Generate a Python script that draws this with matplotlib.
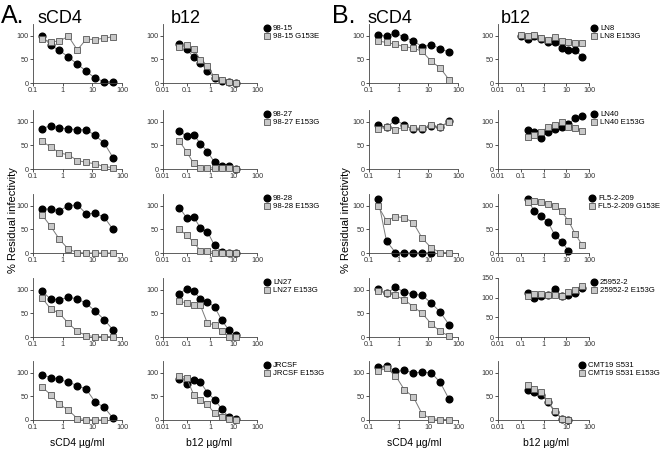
import matplotlib
matplotlib.use("Agg")
import matplotlib.pyplot as plt
from matplotlib.lines import Line2D

plt.rcParams['font.family'] = ['Liberation Sans', 'DejaVu Sans']

# concentrations (ug/ml)
scd4_conc = [0.2, 0.39, 0.78, 1.56, 3.125, 6.25, 12.5, 25, 50]
b12_conc_a = [0.05, 0.1, 0.2, 0.39, 0.78, 1.56, 3.125, 6.25, 12.5]
b12_conc_b = [0.1, 0.2, 0.39, 0.78, 1.56, 3.125, 6.25, 12.5, 25, 50]

# panel A - sCD4 (wt, mutant)
a_names = ["98-15", "98-27", "98-28", "LN27", "JRCSF"]
a_mut = ["98-15 G153E", "98-27 E153G", "98-28 E153G", "LN27 E153G", "JRCSF E153G"]
a_scd4_wt = [
    [100, 80, 69, 55, 40, 25, 10, 3, 2],
    [85, 92, 87, 85, 83, 83, 71, 55, 24],
    [93, 93, 90, 100, 102, 83, 84, 76, 50],
    [98, 80, 79, 84, 81, 71, 55, 37, 15],
    [96, 90, 86, 80, 73, 65, 38, 27, 4],
]
a_scd4_mut = [
    [94, 87, 89, 99, 70, 93, 92, 95, 98],
    [59, 47, 34, 30, 18, 14, 11, 5, 3],
    [81, 57, 29, 8, 1, 0, 0, 0, 0],
    [83, 60, 50, 29, 12, 3, 1, 1, 1],
    [70, 54, 33, 21, 3, 1, 0, 0],
]
a_b12_wt = [
    [83, 72, 55, 42, 26, 10, 5, 2, 0],
    [81, 69, 73, 54, 37, 14, 7, 7, 1],
    [96, 75, 77, 53, 45, 16, 3, 1, 0],
    [92, 102, 97, 81, 74, 64, 36, 15, 5],
    [86, 76, 84, 80, 58, 43, 24, 6, 2],
]
a_b12_mut = [
    [77, 81, 72, 49, 35, 12, 6, 2, 0],
    [59, 37, 12, 3, 3, 2, 2, 2, 1],
    [50, 38, 23, 5, 4, 1, 1, 1, 1],
    [76, 72, 67, 67, 29, 26, 12, 1, 0],
    [94, 90, 54, 43, 33, 14, 6, 2, 0],
]

# panel B
b_names = ["LN8", "LN40", "FL5-2-209", "25952-2", "CMT19 S531"]
b_mut = ["LN8 E153G", "LN40 E153G", "FL5-2-209 G153E", "25952-2 E153G", "CMT19 S531 E153G"]
b_scd4_wt = [
    [102, 99, 106, 97, 89, 77, 81, 73, 65],
    [93, 88, 104, 93, 84, 85, 91, 88, 102],
    [115, 25, 1, 0, 0, 0, 0],
    [101, 93, 105, 95, 91, 88, 72, 53, 26],
    [112, 115, 103, 105, 100, 101, 100, 80, 44],
]
b_scd4_mut = [
    [89, 86, 82, 77, 74, 67, 46, 32, 7],
    [85, 89, 83, 89, 87, 86, 94, 88, 99],
    [100, 68, 77, 75, 64, 31, 11, 1, 1],
    [97, 93, 88, 79, 64, 50, 28, 12, 2],
    [103, 110, 94, 64, 49, 12, 3, 1, 1],
]
b_b12_wt = [
    [100, 94, 99, 94, 86, 86, 74, 70, 69, 56],
    [83, 78, 66, 78, 85, 90, 95, 108, 112],
    [115, 88, 78, 66, 38, 24, 5],
    [112, 100, 103, 107, 122, 105, 108, 112, 125],
    [64, 59, 54, 38, 17, 3, 0],
]
b_b12_mut = [
    [101, 99, 101, 95, 92, 97, 88, 86, 85, 85],
    [68, 73, 78, 89, 94, 99, 90, 86, 81],
    [108, 110, 109, 104, 100, 88, 68, 40, 17],
    [104, 109, 109, 107, 108, 104, 114, 119, 130],
    [75, 66, 59, 40, 19, 3, 0],
]

W, H = 664, 451
fig = plt.figure(figsize=(W / 100, H / 100), dpi=100)

row_bottoms = [83, 169, 253, 337, 420]
ax_h = 59
cols = {"As": (33, 122), "Ab": (163, 257), "Bs": (369, 458), "Bb": (498, 589)}
# legend left edges (px) per row
a_leg_x = [264, 264, 264, 264, 264]
b_leg_x = [591, 591, 589, 591, 579]

line_col = "#7a7a7a"
sq_face = "#c8c8c8"
sq_edge = "#555555"


def make_ax(col, row, xmin, xticks, xlabels, ymax=125, yticks=(0, 50, 100)):
    l, r = cols[col]
    b = row_bottoms[row]
    ax = fig.add_axes([l / W, (H - b) / H, (r - l) / W, ax_h / H])
    ax.set_xscale("log")
    ax.set_xlim(xmin, 100)
    ax.set_ylim(0, ymax)
    ax.set_xticks(xticks)
    ax.set_xticklabels(xlabels)
    ax.xaxis.set_minor_locator(matplotlib.ticker.NullLocator())
    ax.set_yticks(list(yticks))
    ax.set_yticklabels([str(v) for v in yticks])
    for s in ["top", "right"]:
        ax.spines[s].set_visible(False)
    for s in ["left", "bottom"]:
        ax.spines[s].set_linewidth(0.6)
        ax.spines[s].set_color("#444444")
    ax.tick_params(direction="out", length=2, width=0.6, labelsize=5.2, pad=1,
                   colors="#333333")
    ax.patch.set_alpha(0)
    return ax


def draw(ax, xs, wt, mut):
    ax.plot(xs[:len(mut)], mut, "-s", color=line_col, lw=0.7, ms=4.6,
            mfc=sq_face, mec=sq_edge, mew=0.6, clip_on=False, zorder=3)
    ax.plot(xs[:len(wt)], wt, "-o", color=line_col, lw=0.7, ms=4.8,
            mfc="black", mec="black", clip_on=False, zorder=2)


def add_legend(ax, x_px, top_px, wt_name, mut_name):
    handles = [
        Line2D([], [], ls="none", marker="o", ms=4.8, mfc="black", mec="black"),
        Line2D([], [], ls="none", marker="s", ms=4.6, mfc=sq_face, mec=sq_edge, mew=0.6),
    ]
    ax.legend(handles, [wt_name, mut_name], loc="upper left",
              bbox_to_anchor=(x_px / W, (H - top_px) / H),
              bbox_transform=fig.transFigure, frameon=False, fontsize=5.6,
              handlelength=0.8, handletextpad=0.35, labelspacing=0.05,
              borderpad=0, borderaxespad=0)


s_ticks = [0.1, 1, 10, 100]
s_labels = ["0.1", "1", "10", "100"]
b_ticks = [0.01, 0.1, 1, 10, 100]
b_labels = ["0.01", "0.1", "1", "10", "100"]

for i in range(5):
    ax = make_ax("As", i, 0.1, s_ticks, s_labels)
    draw(ax, scd4_conc, a_scd4_wt[i], a_scd4_mut[i])
    ax = make_ax("Ab", i, 0.01, b_ticks, b_labels)
    draw(ax, b12_conc_a, a_b12_wt[i], a_b12_mut[i])
    add_legend(ax, a_leg_x[i], row_bottoms[i] - ax_h + 1, a_names[i], a_mut[i])

    ax = make_ax("Bs", i, 0.1, s_ticks, s_labels)
    draw(ax, scd4_conc, b_scd4_wt[i], b_scd4_mut[i])
    if i == 3:
        ax = make_ax("Bb", i, 0.01, b_ticks, b_labels, ymax=150, yticks=(0, 50, 100, 150))
    else:
        ax = make_ax("Bb", i, 0.01, b_ticks, b_labels)
    xs = b12_conc_b if i == 0 else b12_conc_b[1:]
    draw(ax, xs, b_b12_wt[i], b_b12_mut[i])
    add_legend(ax, b_leg_x[i], row_bottoms[i] - ax_h + 1, b_names[i], b_mut[i])


def ftext(x, y, s, **kw):
    fig.text(x / W, (H - y) / H, s, **kw)


ftext(1, 23, "A.", fontsize=18)
ftext(37, 23, "sCD4", fontsize=13)
ftext(171, 23, "b12", fontsize=13)
ftext(332, 23, "B.", fontsize=18)
ftext(368, 23, "sCD4", fontsize=13)
ftext(501, 23, "b12", fontsize=13)

ftext(77, 443, "sCD4 \u00b5g/ml", fontsize=7.5, ha="center", va="center")
ftext(209, 443, "b12 \u00b5g/ml", fontsize=7.5, ha="center", va="center")
ftext(414, 443, "sCD4 \u00b5g/ml", fontsize=7.5, ha="center", va="center")
ftext(546, 443, "b12 \u00b5g/ml", fontsize=7.5, ha="center", va="center")

ftext(13, 220, "% Residual infectivity", fontsize=8, rotation=90, ha="center", va="center")
ftext(346, 220, "% Residual infectivity", fontsize=8, rotation=90, ha="center", va="center")

fig.savefig("out.png", dpi=100)
